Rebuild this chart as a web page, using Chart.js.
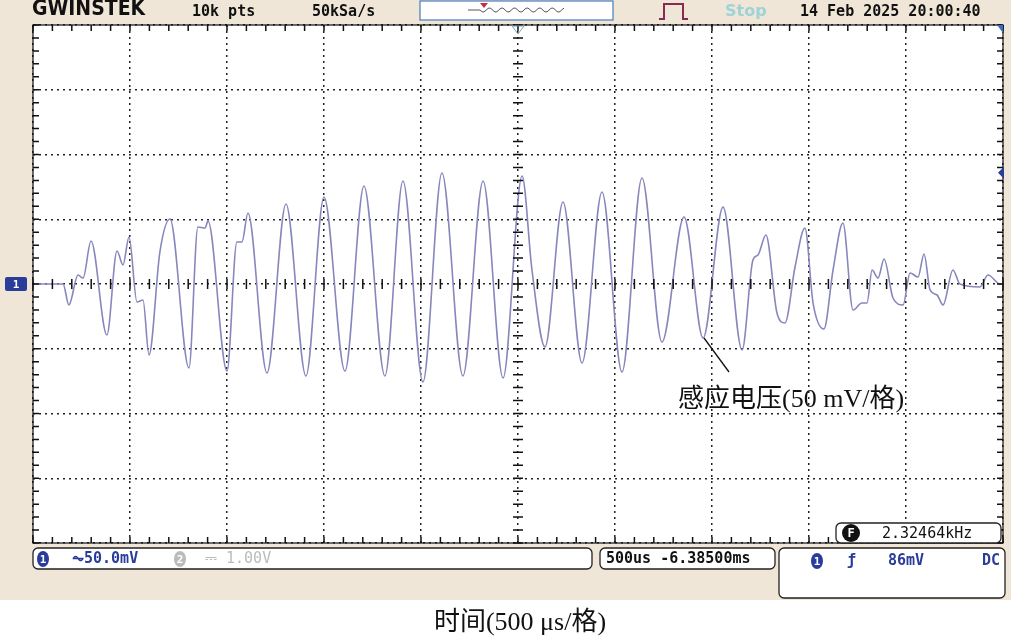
<!DOCTYPE html>
<html><head><meta charset="utf-8">
<script src="https://cdn.jsdelivr.net/npm/chart.js@4"></script>
<style>html,body{margin:0;padding:0;background:#fff}#w{width:1011px;height:643px;position:relative}</style>
</head><body><div id="w"><canvas id="c" width="1011" height="643"></canvas></div>
<script>
// time in microseconds (500 us/div), voltage in mV (50 mV/div)
const timeUs = [-2500,-2345,-2315,-2268,-2242,-2201,-2119,-2067,-2036,-2005,-1964,-1933,-1902,-1846,-1794,-1696,-1650,-1613,-1598,-1500,-1449,-1423,-1392,-1294,-1196,-1093,-1000,-892,-794,-686,-593,-490,-392,-284,-180,-77,21,72,139,232,330,433,536,639,742,856,954,1057,1155,1211,1237,1278,1335,1376,1428,1479,1521,1577,1624,1675,1727,1773,1799,1825,1856,1887,1933,1985,2021,2062,2093,2124,2160,2191,2242,2278,2381,2423,2485,2500];
const voltageMv = [0,0,-16.2,6.9,4.6,33.2,-39.4,25.5,14.7,36.3,-13.9,-12.4,-54.8,24.7,50.2,-64.8,44.0,43.2,48.6,-67.2,32.4,32.4,54.8,-68.7,61.8,-71.0,67.2,-67.2,75.7,-71.0,79.5,-75.7,85.7,-71.0,79.5,-72.6,83.4,10.8,-48.6,63.3,-61.0,71.0,-67.9,81.8,-44.8,51.7,-41.7,59.4,-51.0,18.5,22.4,37.8,-22.4,-30.1,13.1,43.2,-14.7,-34.7,10.8,47.1,-20.1,-14.7,-14.7,10.8,4.6,19.3,-10.8,-16.2,8.5,5.4,23.2,-4.6,-8.5,-16.2,10.8,0,-2.3,6.9,0,0];
const xTicks = [-2500,-2000,-1500,-1000,-500,0,500,1000,1500,2000,2500];
const yTicks = [-200,-150,-100,-50,0,50,100,150,200];
const seriesLabel = '感应电压(50 mV/格)';
const xTitle = '时间(500 μs/格)';

const mono = '"DejaVu Sans Mono", monospace';
function rr(ctx,x,y,w,h,r){ctx.beginPath();ctx.moveTo(x+r,y);ctx.arcTo(x+w,y,x+w,y+h,r);ctx.arcTo(x+w,y+h,x,y+h,r);ctx.arcTo(x,y+h,x,y,r);ctx.arcTo(x,y,x+w,y,r);ctx.closePath();}
function circNum(ctx,x,y,n,col){ctx.save();ctx.fillStyle=col;ctx.beginPath();ctx.ellipse(x,y,6,8,0,0,Math.PI*2);ctx.fill();ctx.fillStyle='#fff';ctx.font='bold 11px '+mono;ctx.textAlign='center';ctx.textBaseline='middle';ctx.fillText(n,x,y+1);ctx.restore();}

const deco = {
  id:'deco',
  beforeDraw(ch){
    const ctx=ch.ctx, a=ch.chartArea;
    ctx.save();
    ctx.fillStyle='#fff';ctx.fillRect(0,0,1011,643);
    ctx.fillStyle='#efe6d8';ctx.fillRect(0,0,1011,600);
    ctx.fillStyle='#fff';ctx.fillRect(a.left,a.top,a.right-a.left,a.bottom-a.top);
    ctx.restore();
  },
  afterDatasetsDraw(ch){
    const ctx=ch.ctx,a=ch.chartArea,xs=ch.scales.x,ys=ch.scales.y;
    ctx.save();
    ctx.strokeStyle='#111';ctx.lineWidth=1.5;
    const cx=xs.getPixelForValue(0), cy=ys.getPixelForValue(0);
    for(let t=-2500;t<=2500;t+=100){
      const px=xs.getPixelForValue(t);
      ctx.beginPath();ctx.moveTo(px,cy-5);ctx.lineTo(px,cy+5);
      ctx.moveTo(px,a.top);ctx.lineTo(px,a.top+6);
      ctx.moveTo(px,a.bottom);ctx.lineTo(px,a.bottom-6);ctx.stroke();
    }
    for(let v=-200;v<=200;v+=10){
      const py=ys.getPixelForValue(v);
      ctx.beginPath();ctx.moveTo(cx-5,py);ctx.lineTo(cx+5,py);
      ctx.moveTo(a.left,py);ctx.lineTo(a.left+6,py);
      ctx.moveTo(a.right,py);ctx.lineTo(a.right-6,py);ctx.stroke();
    }
    ctx.lineWidth=1.2;ctx.strokeRect(a.left,a.top,a.right-a.left,a.bottom-a.top);
    ctx.fillStyle='#2a3c9a';rr(ctx,5,cy-7,22,14,2);ctx.fill();
    ctx.fillStyle='#fff';ctx.font='bold 11px '+mono;ctx.textAlign='center';ctx.textBaseline='middle';ctx.fillText('1',16,cy+1);
    ctx.strokeStyle='#7ab';ctx.lineWidth=1;ctx.beginPath();ctx.moveTo(cx-6,a.top+1);ctx.lineTo(cx+6,a.top+1);ctx.lineTo(cx,a.top+9);ctx.closePath();ctx.stroke();
    ctx.fillStyle='#3a6fc0';ctx.beginPath();ctx.moveTo(a.right,a.top);ctx.lineTo(a.right-6,a.top);ctx.lineTo(a.right,a.top+8);ctx.fill();
    ctx.fillStyle='#2a3c9a';const dy=ys.getPixelForValue(86);ctx.beginPath();ctx.moveTo(a.right+1,dy-6);ctx.lineTo(a.right-5,dy);ctx.lineTo(a.right+1,dy+6);ctx.fill();
    // header
    ctx.fillStyle='#111';ctx.textAlign='left';ctx.textBaseline='middle';
    ctx.font='bold 21px "DejaVu Sans Condensed", sans-serif';ctx.fillText('GWINSTEK',32,10);
    ctx.font='bold 15px '+mono;ctx.fillText('10k pts',192,12);ctx.fillText('50kSa/s',312,12);
    ctx.fillText('14 Feb 2025 20:00:40',800,12);
    ctx.fillStyle='#9fd3d6';ctx.font='bold 16px "DejaVu Sans", sans-serif';ctx.fillText('Stop',725,12);
    ctx.fillStyle='#fff';ctx.fillRect(420,1,193,19);ctx.strokeStyle='#4a7ab8';ctx.lineWidth=1.2;ctx.strokeRect(420,1,193,19);
    ctx.strokeStyle='#556';ctx.lineWidth=1;ctx.beginPath();
    for(let x=468;x<565;x++){const y=10+(x>480?2*Math.sin((x-480)/2):0);x===468?ctx.moveTo(x,y):ctx.lineTo(x,y);}ctx.stroke();
    ctx.fillStyle='#c03040';ctx.beginPath();ctx.moveTo(480,3);ctx.lineTo(488,3);ctx.lineTo(484,8);ctx.fill();
    ctx.strokeStyle='#8a2a50';ctx.lineWidth=2;ctx.beginPath();ctx.moveTo(659,19);ctx.lineTo(664,19);ctx.lineTo(664,4);ctx.lineTo(683,4);ctx.lineTo(683,19);ctx.lineTo(688,19);ctx.stroke();
    // frequency box
    ctx.fillStyle='#fff';ctx.strokeStyle='#222';ctx.lineWidth=1.3;rr(ctx,836,523,165,20,5);ctx.fill();ctx.stroke();
    ctx.fillStyle='#111';ctx.beginPath();ctx.arc(851,533,9,0,Math.PI*2);ctx.fill();
    ctx.fillStyle='#fff';ctx.font='bold 12px '+mono;ctx.textAlign='center';ctx.fillText('F',851,534);
    ctx.fillStyle='#111';ctx.textAlign='left';ctx.font='15px '+mono;ctx.fillText('2.32464kHz',882,534);
    // footer boxes
    ctx.fillStyle='#fff';rr(ctx,33,548,559,21,5);ctx.fill();ctx.stroke();
    rr(ctx,600,548,175,21,5);ctx.fill();ctx.stroke();
    rr(ctx,779,548,226,50,5);ctx.fill();ctx.stroke();
    ctx.textAlign='left';ctx.textBaseline='middle';
    circNum(ctx,43,559,'1','#2a3c9a');
    ctx.fillStyle='#2a3c9a';ctx.font='bold 15px '+mono;ctx.fillText('⏦50.0mV',72,559);
    circNum(ctx,180,559,'2','#bbb');
    ctx.fillStyle='#bbb';ctx.font='15px '+mono;ctx.fillText('⎓ 1.00V',205,559);
    ctx.fillStyle='#111';ctx.font='bold 15px '+mono;ctx.fillText('500us -6.38500ms',606,559);
    circNum(ctx,817,561,'1','#2a3c9a');
    ctx.fillStyle='#2a3c9a';ctx.font='bold 15px '+mono;ctx.fillText('ƒ',847,561);ctx.fillText('86mV',888,561);ctx.fillText('DC',982,561);
    // annotation
    ctx.strokeStyle='#111';ctx.lineWidth=1.3;ctx.beginPath();ctx.moveTo(704,338);ctx.lineTo(729,372);ctx.stroke();
    ctx.fillStyle='#111';ctx.font='26px "Liberation Serif", "Noto Sans CJK SC", serif';ctx.textAlign='left';ctx.textBaseline='middle';
    ctx.fillText(seriesLabel,678,400);
    ctx.textAlign='center';ctx.fillText(xTitle,520,623);
    ctx.restore();
  }
};

new Chart(document.getElementById('c'),{
  type:'line',
  data:{datasets:[{label:seriesLabel,data:timeUs.map((t,i)=>({x:t,y:voltageMv[i]})),borderColor:'#8787bd',borderWidth:1.6,pointRadius:0,cubicInterpolationMode:'monotone',fill:false}]},
  options:{responsive:false,animation:false,
    layout:{padding:{left:33,right:8,top:25,bottom:100}},
    plugins:{legend:{display:false},tooltip:{enabled:false}},
    scales:{
      x:{type:'linear',min:-2500,max:2500,afterBuildTicks:s=>{s.ticks=xTicks.map(v=>({value:v}));},
        ticks:{display:false},border:{display:false,dash:[2,4]},grid:{color:'#222',lineWidth:1.5,drawTicks:false},afterFit:s=>{s.height=0;}},
      y:{min:-200,max:200,afterBuildTicks:s=>{s.ticks=yTicks.map(v=>({value:v}));},
        ticks:{display:false},border:{display:false,dash:[2,4]},grid:{color:'#222',lineWidth:1.5,drawTicks:false},afterFit:s=>{s.width=0;}}
    }
  },
  plugins:[deco]
});
</script></body></html>
